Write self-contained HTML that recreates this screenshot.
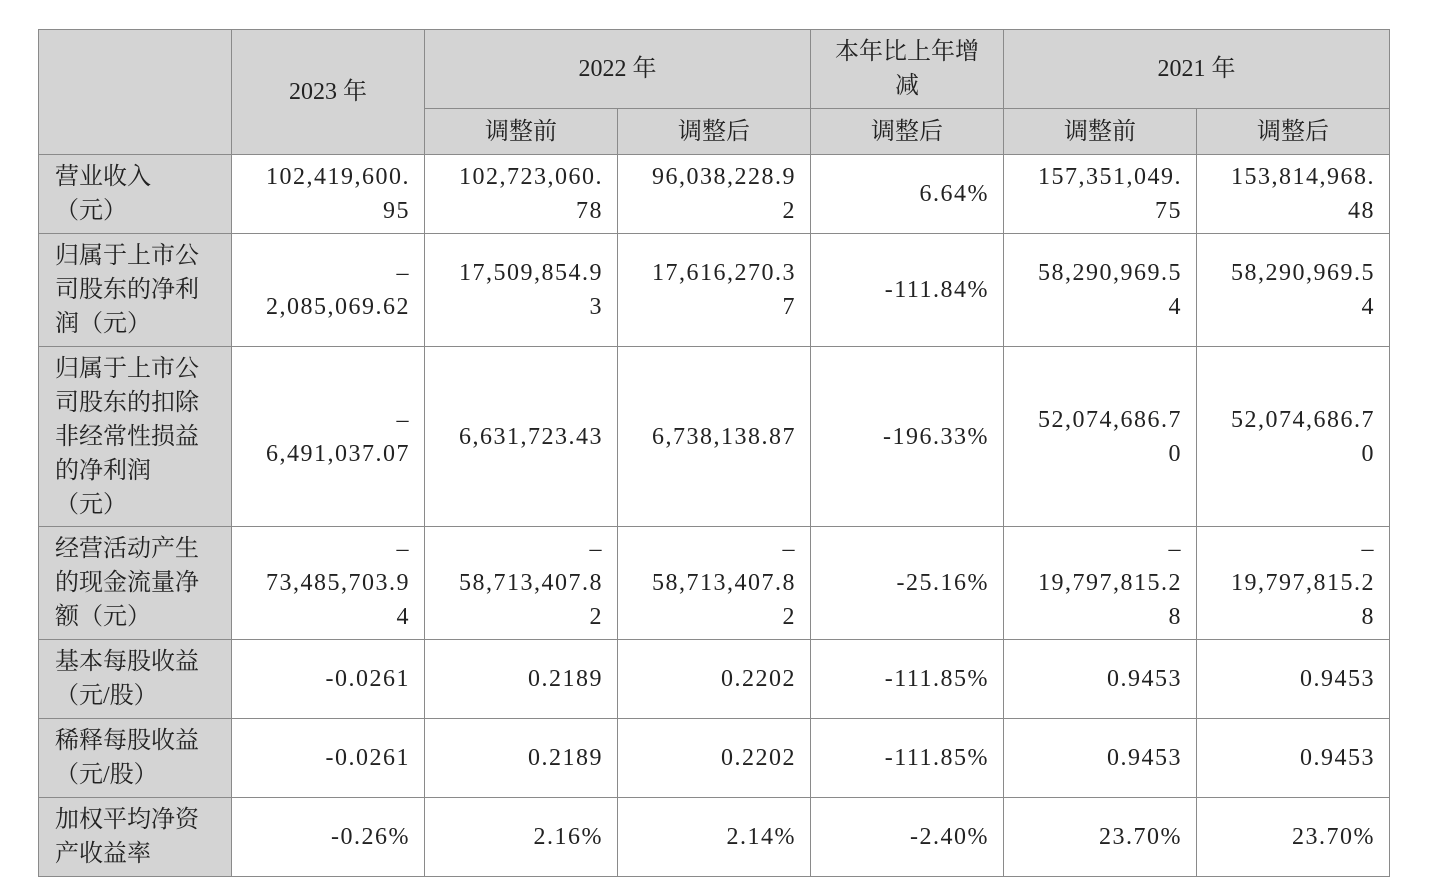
<!DOCTYPE html>
<html><head><meta charset="utf-8">
<style>
body{margin:0;background:#fff;width:1444px;height:878px;overflow:hidden;}
table{position:absolute;left:38px;top:29px;border-collapse:collapse;table-layout:fixed;
font-family:"Liberation Serif","Noto Serif CJK SC",serif;font-size:24px;color:#222;}
td{border:1.5px solid #8a8a8a;padding:0 14px 0 16px;line-height:34px;vertical-align:middle;overflow:hidden;}
.g{background:#d4d4d4;}
.h{text-align:center;padding:0;}
.n{text-align:right;letter-spacing:1.5px;}
.l{text-align:left;}
</style></head><body>
<table>
<colgroup><col style="width:193px"><col style="width:193px"><col style="width:193px"><col style="width:193px"><col style="width:193px"><col style="width:193px"><col style="width:193px"></colgroup>
<tr style="height:79px">
<td class="g" rowspan="2"></td>
<td class="g h" rowspan="2">2023 年</td>
<td class="g h" colspan="2">2022 年</td>
<td class="g h">本年比上年增<br>减</td>
<td class="g h" colspan="2">2021 年</td>
</tr>
<tr style="height:46px">
<td class="g h">调整前</td>
<td class="g h">调整后</td>
<td class="g h">调整后</td>
<td class="g h">调整前</td>
<td class="g h">调整后</td>
</tr>
<tr style="height:79px">
<td class="g l">营业收入<br>（元）</td>
<td class="n">102,419,600.<br>95</td>
<td class="n">102,723,060.<br>78</td>
<td class="n">96,038,228.9<br>2</td>
<td class="n">6.64%</td>
<td class="n">157,351,049.<br>75</td>
<td class="n">153,814,968.<br>48</td>
</tr>
<tr style="height:113px">
<td class="g l">归属于上市公<br>司股东的净利<br>润（元）</td>
<td class="n">–<br>2,085,069.62</td>
<td class="n">17,509,854.9<br>3</td>
<td class="n">17,616,270.3<br>7</td>
<td class="n">-111.84%</td>
<td class="n">58,290,969.5<br>4</td>
<td class="n">58,290,969.5<br>4</td>
</tr>
<tr style="height:180px">
<td class="g l">归属于上市公<br>司股东的扣除<br>非经常性损益<br>的净利润<br>（元）</td>
<td class="n">–<br>6,491,037.07</td>
<td class="n">6,631,723.43</td>
<td class="n">6,738,138.87</td>
<td class="n">-196.33%</td>
<td class="n">52,074,686.7<br>0</td>
<td class="n">52,074,686.7<br>0</td>
</tr>
<tr style="height:113px">
<td class="g l">经营活动产生<br>的现金流量净<br>额（元）</td>
<td class="n">–<br>73,485,703.9<br>4</td>
<td class="n">–<br>58,713,407.8<br>2</td>
<td class="n">–<br>58,713,407.8<br>2</td>
<td class="n">-25.16%</td>
<td class="n">–<br>19,797,815.2<br>8</td>
<td class="n">–<br>19,797,815.2<br>8</td>
</tr>
<tr style="height:79px">
<td class="g l">基本每股收益<br>（元/股）</td>
<td class="n">-0.0261</td>
<td class="n">0.2189</td>
<td class="n">0.2202</td>
<td class="n">-111.85%</td>
<td class="n">0.9453</td>
<td class="n">0.9453</td>
</tr>
<tr style="height:79px">
<td class="g l">稀释每股收益<br>（元/股）</td>
<td class="n">-0.0261</td>
<td class="n">0.2189</td>
<td class="n">0.2202</td>
<td class="n">-111.85%</td>
<td class="n">0.9453</td>
<td class="n">0.9453</td>
</tr>
<tr style="height:79px">
<td class="g l">加权平均净资<br>产收益率</td>
<td class="n">-0.26%</td>
<td class="n">2.16%</td>
<td class="n">2.14%</td>
<td class="n">-2.40%</td>
<td class="n">23.70%</td>
<td class="n">23.70%</td>
</tr>
</table>
</body></html>
